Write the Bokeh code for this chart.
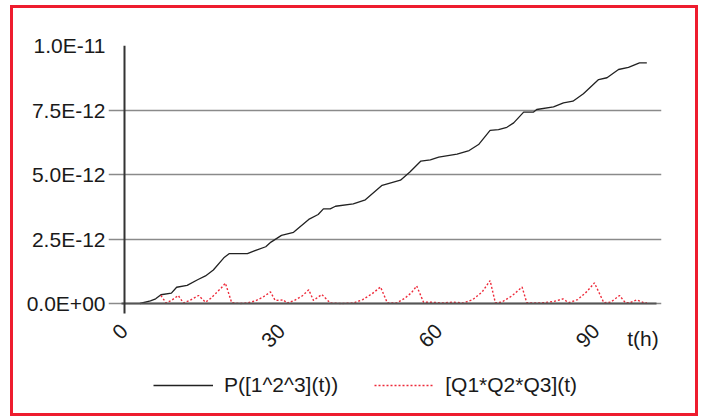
import math
from bokeh.plotting import figure
from bokeh.layouts import column
from bokeh.models import (ColumnDataSource, Range1d, FixedTicker, Legend, LegendItem,
                          Label, LinearAxis)
from bokeh.embed import file_html
from bokeh.resources import INLINE

# ---- data (values in units of 1e-12) ----
p_t = [3, 5, 6, 7, 9, 10, 12, 14, 15.5, 17, 19, 20, 23.5, 24.7, 27, 28, 30, 32.3,
       35.2, 37, 38, 39.3, 40.3, 43.7, 46, 49.2, 52.7, 54.5, 56.6, 58.4, 60, 63.5,
       65.8, 67.6, 69.8, 71.4, 73, 74.3, 76.2, 78.1, 78.7, 81.9, 83.8, 85.6, 87.6,
       90.5, 92.1, 94.3, 96.2, 98.3, 99.7]
p_v = [0.0, 0.1, 0.18, 0.34, 0.4, 0.63, 0.7, 0.92, 1.07, 1.3, 1.77, 1.93, 1.93, 2.03,
       2.2, 2.38, 2.64, 2.76, 3.26, 3.45, 3.67, 3.67, 3.77, 3.86, 4.02, 4.58, 4.78,
       5.1, 5.52, 5.57, 5.67, 5.79, 5.93, 6.16, 6.71, 6.74, 6.83, 7.0, 7.42, 7.42,
       7.52, 7.62, 7.78, 7.84, 8.13, 8.68, 8.75, 9.07, 9.15, 9.33, 9.33]

q_t = [7, 8, 9, 10.3, 11.3, 12.5, 14.2, 15.5, 16.5, 17.5, 18.5, 19.3, 20.5, 22, 23.5,
       25, 26.5, 27.9, 28.8, 30.4, 31, 32.5, 34, 35.2, 36.1, 37.7, 39.3, 41.5, 43.7,
       45.5, 47.3, 48.9, 50.2, 52, 53.5, 54.8, 55.8, 57.1, 58.8, 60.5, 62.8, 64.7,
       66.5, 68.3, 69.8, 70.8, 72, 74, 75.9, 76.8, 78.5, 80, 82, 83.7, 84.8, 86.5,
       88.2, 89.7, 91.5, 92.8, 94.5, 95.6, 96.5, 97.8, 99.1, 99.7]
q_v = [0.31, 0.02, 0.12, 0.31, 0.02, 0.12, 0.31, 0.05, 0.2, 0.4, 0.6, 0.79, 0.03, 0.0,
       0.02, 0.1, 0.25, 0.45, 0.12, 0.14, 0.01, 0.12, 0.3, 0.53, 0.12, 0.35, 0.02, 0.0,
       0.02, 0.15, 0.38, 0.64, 0.02, 0.02, 0.2, 0.42, 0.68, 0.05, 0.05, 0.02, 0.05,
       0.02, 0.15, 0.45, 0.89, 0.03, 0.05, 0.3, 0.64, 0.03, 0.02, 0.03, 0.08, 0.18,
       0.03, 0.15, 0.45, 0.8, 0.03, 0.05, 0.31, 0.03, 0.03, 0.14, 0.03, 0.03]

x_ticks = [0, 30, 60, 90]
y_ticks = [0, 2.5, 5, 7.5, 10]
y_tick_labels = ["0.0E+00", "2.5E-12", "5.0E-12", "7.5E-12", "1.0E-11"]
series_names = ["P([1^2^3](t))", "[Q1*Q2*Q3](t)"]
x_axis_name = "t(h)"

FONT = "Liberation Sans"
TXT = "#1a1a1a"
FS = "21px"

# frame extends below y=0 (and a little beyond the t range) so that the x labels,
# the t(h) label and the legend are drawn inside it
p = figure(frame_width=553, frame_height=365, output_backend="svg", toolbar_location=None,
           x_range=Range1d(-3, 102.5), y_range=Range1d(-4.147, 10),
           min_border_left=95, min_border_right=34, min_border_top=37,
           min_border_bottom=3)
p.outline_line_color = None
p.background_fill_color = "white"
p.border_fill_color = "white"

src_p = ColumnDataSource(dict(t=p_t, v=p_v))
src_q = ColumnDataSource(dict(t=q_t, v=q_v))
r1 = p.line("t", "v", source=src_p, line_color="#222222", line_width=1.3)
r2 = p.line("t", "v", source=src_q, line_color="#ee2a3a", line_width=1.4, line_dash="2 2")

# y axis labels (left panel)
ya = p.yaxis[0]
ya.ticker = FixedTicker(ticks=y_ticks)
ya.major_label_overrides = {t: s for t, s in zip(y_ticks, y_tick_labels)}
ya.axis_line_color = None
ya.major_tick_line_color = None
ya.major_tick_out = 0
ya.major_tick_in = 0
ya.minor_tick_line_color = None
ya.major_label_text_font = FONT
ya.major_label_text_font_size = FS
ya.major_label_text_color = TXT
ya.major_label_standoff = 3

# y axis line at t = 0
y_line = LinearAxis(fixed_location=0, ticker=FixedTicker(ticks=[]), bounds=(-0.4, 10),
                    axis_line_color="#333333", axis_line_width=2,
                    major_tick_line_color=None, minor_tick_line_color=None,
                    major_label_text_font_size="0px")
p.add_layout(y_line, "left")

# x axis, drawn at y = 0
xa = p.xaxis[0]
xa.fixed_location = 0
xa.bounds = (-0.6, 101.5)
xa.ticker = FixedTicker(ticks=x_ticks)
xa.axis_line_color = "#555555"
xa.axis_line_width = 2
xa.major_tick_line_color = None
xa.minor_tick_line_color = None
xa.major_label_orientation = math.pi / 4
xa.major_label_text_font = FONT
xa.major_label_text_font_size = FS
xa.major_label_text_color = TXT
xa.major_label_standoff = 18

p.xgrid.grid_line_color = None
p.ygrid.ticker = FixedTicker(ticks=y_ticks)
p.ygrid.grid_line_color = "#8a8a8a"
p.ygrid.grid_line_width = 1.5

p.add_layout(Label(x=98.95, y=-1.357, text=x_axis_name,
                   text_font=FONT, text_font_size=FS, text_color=TXT,
                   text_align="center", text_baseline="middle"))

legend = Legend(items=[LegendItem(label=series_names[0], renderers=[r1]),
                       LegendItem(label=series_names[1], renderers=[r2])],
                orientation="horizontal", location=(45, 13))
legend.label_text_font = FONT
legend.label_text_font_size = FS
legend.label_text_color = TXT
legend.glyph_width = 60
legend.glyph_height = 20
legend.label_standoff = 11
legend.spacing = 36
legend.padding = 0
legend.margin = 0
legend.border_line_color = None
legend.background_fill_alpha = 0
p.add_layout(legend, "center")

layout = column(p, styles={"border": "3px solid #ee1c2e", "margin": "5px 0 0 10px"})
open("out.html", "w").write(file_html(layout, INLINE))
